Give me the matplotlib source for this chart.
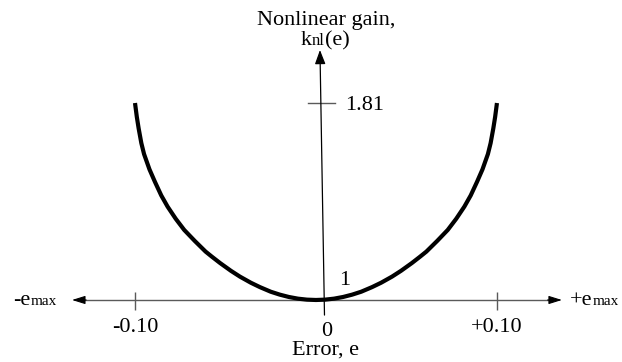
import matplotlib
matplotlib.use('Agg')
import matplotlib.pyplot as plt
from matplotlib import transforms as mtrans

# ---- data ----
error = [-0.100, -0.099, -0.098, -0.0965, -0.095, -0.092, -0.089, -0.0855,
         -0.082, -0.0775, -0.0728, -0.067, -0.061, -0.0575, -0.053, -0.047,
         -0.042, -0.036, -0.031, -0.025, -0.020, -0.015, -0.010, -0.005, 0.0,
         0.005, 0.010, 0.015, 0.020, 0.025, 0.031, 0.036, 0.042, 0.047, 0.053,
         0.0575, 0.061, 0.067, 0.0728, 0.0775, 0.082, 0.0855, 0.089, 0.092,
         0.095, 0.0965, 0.098, 0.099, 0.100]
gain = [1.81, 1.753, 1.706, 1.645, 1.600, 1.537, 1.486, 1.430,
        1.384, 1.334, 1.288, 1.243, 1.199, 1.178, 1.152, 1.120,
        1.096, 1.071, 1.053, 1.034, 1.022, 1.0124, 1.0055, 1.0014, 1.0,
        1.0014, 1.0055, 1.0124, 1.022, 1.034, 1.053, 1.071, 1.096, 1.120, 1.152,
        1.178, 1.199, 1.243, 1.288, 1.334, 1.384, 1.430, 1.486, 1.537,
        1.600, 1.645, 1.706, 1.753, 1.81]
x_ticks = [-0.10, 0.10]
x_tick_labels = ['-0.10', '+0.10']
zero_label = '0'
y_tick = 1.81
y_tick_label = '1.81'
y_min_value = 1.0
y_min_label = '1'

plt.rcParams['font.family'] = ['Liberation Serif', 'DejaVu Serif']

fig = plt.figure(figsize=(6.22, 3.62), dpi=100)
ax = fig.add_axes([0, 0, 1, 1])
ax.set_xlim(-0.1746, 0.1691)
ax.set_ylim(0.745, 2.2336)
ax.axis('off')

GRAY = '#5a5a5a'
FS = 16
FS_SMALL = 11

# x axis (gray line with black arrow heads)
ax.plot([-0.129, 0.129], [1.0, 1.0], color=GRAY, lw=1.0, zorder=1)
for tip, base in [(-0.1348, -0.127), (0.1359, 0.128)]:
    ax.annotate('', xy=(tip, 1.0), xytext=(base, 1.0),
                arrowprops=dict(arrowstyle='-|>,head_length=0.8,head_width=0.25',
                                color='black', lw=0.8, shrinkA=0, shrinkB=0))

# y axis (slightly tilted as in the drawing)
ax.annotate('', xy=(0.0022, 2.028), xytext=(0.0047, 0.938),
            arrowprops=dict(arrowstyle='-|>,head_length=0.85,head_width=0.32',
                            color='black', lw=0.9, shrinkA=0, shrinkB=0))

# tick marks
ax.vlines(x_ticks, 0.959, 1.033, color=GRAY, lw=1.0)
ax.plot([-0.0044, 0.0105], [y_tick, y_tick], color=GRAY, lw=1.0)

# curve
ax.plot(error, gain, color='black', lw=3.0, solid_capstyle='butt',
        solid_joinstyle='round', zorder=3)

renderer = fig.canvas.get_renderer()


def rich_text(x, y, parts, ha='left'):
    texts, widths = [], []
    for s, size in parts:
        t = ax.text(x, y, s, fontsize=size, ha='left', va='baseline')
        widths.append(t.get_window_extent(renderer).width)
        texts.append(t)
    total = sum(widths)
    off = {'left': 0.0, 'center': -total / 2, 'right': -total}[ha]
    for t, w in zip(texts, widths):
        t.set_transform(mtrans.offset_copy(ax.transData, fig=fig, x=off, y=0,
                                           units='dots'))
        off += w


# tick labels
for xv, lab in zip(x_ticks, x_tick_labels):
    ax.text(xv, 0.870, lab, fontsize=FS, ha='center', va='baseline')
ax.text(0.006, 0.852, zero_label, fontsize=FS, ha='center', va='baseline')
ax.text(0.016, 1.781, y_tick_label, fontsize=FS, ha='left', va='baseline')
ax.text(0.016, y_min_value + 0.0617, y_min_label, fontsize=FS, ha='center',
        va='baseline')

# axis titles
ax.text(0.005, 0.774, 'Error, e', fontsize=FS, ha='center', va='baseline')
ax.text(0.0055, 2.1308, 'Nonlinear gain,', fontsize=FS, ha='center', va='baseline')
rich_text(0.005, 2.0485, [('k', FS), ('nl', 12), ('(e)', FS)], ha='center')

# axis end labels
rich_text(-0.1674, 0.9794, [('-e', FS), ('max', FS_SMALL)], ha='left')
rich_text(0.1403, 0.9794, [('+e', FS), ('max', FS_SMALL)], ha='left')

fig.savefig('out.png', dpi=100)
